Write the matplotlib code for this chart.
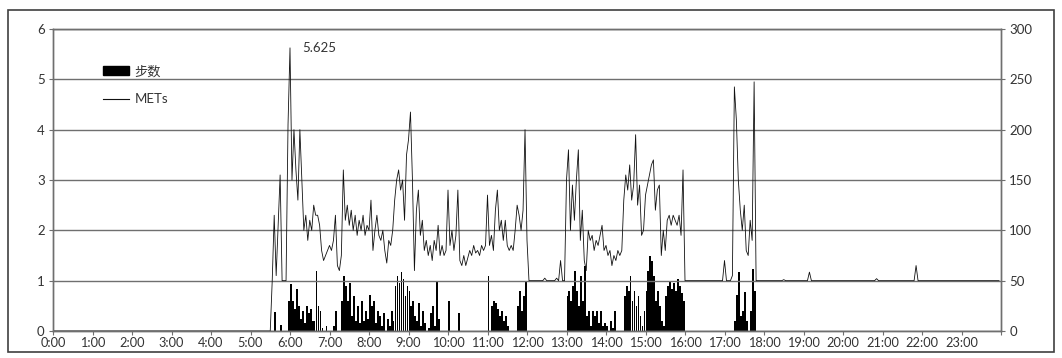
# -*- coding: utf-8 -*-
import numpy as np
import matplotlib
matplotlib.use('Agg')
import matplotlib.pyplot as plt
from matplotlib.patches import Patch, Rectangle
from matplotlib.lines import Line2D

plt.rcParams['font.family'] = ['Lato', 'Noto Sans CJK SC', 'DejaVu Sans']

# METs, 3-Minuten-Werte, je Stunde 20 Werte (hh:00, hh:03, ... hh:57)
mets_00_04 = [0.0] * 100
mets_05 = [0, 0, 0, 0, 0, 0, 0, 0, 0, 0, 0, 1.0, 2.3, 1.1, 2.1, 3.1, 1.0, 1.0, 1.0, 4.1]
mets_06 = [5.625, 3.0, 4.0, 3.2, 2.6, 4.0, 3.0, 2.0, 2.3, 1.8, 2.2, 2.0, 2.5, 2.3, 2.3, 2.1, 1.6, 1.4, 1.5, 1.6]
mets_07 = [1.7, 1.6, 1.8, 2.3, 1.3, 1.2, 1.5, 3.2, 2.2, 2.5, 2.1, 2.4, 2.0, 2.3, 1.9, 2.2, 2.0, 2.3, 1.9, 2.1]
mets_08 = [2.0, 2.6, 1.6, 2.0, 2.3, 1.9, 1.8, 2.0, 1.6, 1.35, 1.8, 1.7, 2.0, 2.6, 3.0, 3.2, 2.8, 3.0, 2.2, 3.5]
mets_09 = [3.8, 4.35, 3.0, 1.2, 2.4, 2.8, 1.9, 2.2, 1.6, 1.8, 1.5, 1.7, 1.4, 1.8, 1.6, 2.1, 1.5, 1.7, 1.5, 1.6]
mets_10 = [2.8, 1.7, 2.0, 1.6, 1.9, 2.8, 1.4, 1.3, 1.5, 1.3, 1.45, 1.6, 1.5, 1.7, 1.55, 1.6, 1.5, 1.7, 1.6, 1.7]
mets_11 = [2.7, 1.7, 1.9, 1.6, 2.4, 2.8, 2.0, 2.2, 1.8, 2.2, 1.7, 1.6, 1.7, 1.6, 2.0, 2.5, 2.3, 2.0, 2.4, 4.0]
mets_12 = [1.8, 1.0, 1.0, 1.0, 1.0, 1.0, 1.0, 1.0, 1.0, 1.05, 1.0, 1.0, 1.0, 1.0, 1.0, 1.05, 1.0, 1.4, 1.0, 1.0]
mets_13 = [3.0, 3.6, 2.0, 2.9, 2.2, 3.0, 3.6, 1.8, 2.4, 1.4, 1.2, 2.0, 1.8, 1.9, 1.6, 1.8, 1.7, 1.9, 2.1, 1.6]
mets_14 = [1.7, 1.5, 1.6, 1.3, 1.5, 1.4, 1.6, 1.5, 1.6, 2.6, 3.1, 2.8, 3.3, 2.6, 2.9, 3.9, 2.5, 2.9, 1.9, 2.0]
mets_15 = [2.7, 2.9, 3.1, 3.3, 3.4, 2.4, 2.8, 2.9, 1.5, 2.0, 1.6, 2.2, 2.3, 2.1, 2.3, 2.2, 2.1, 2.3, 1.9, 3.2]
mets_16 = [1.0] * 20
mets_17 = [1.4, 1.0, 1.0, 1.0, 1.1, 4.85, 4.2, 3.0, 2.4, 2.0, 2.5, 1.6, 1.5, 2.2, 1.8, 4.95, 1.0, 1.0, 1.0, 1.0]
mets_18 = [1.0] * 10 + [1.02] + [1.0] * 9
mets_19 = [1.0] * 3 + [1.17] + [1.0] * 16
mets_20 = [1.0] * 17 + [1.04] + [1.0] * 2
mets_21 = [1.0] * 17 + [1.3] + [1.0] * 2
mets_22_23 = [1.0] * 40

# Schritte pro 3 Minuten (rechte Achse)
steps_00_04 = [0] * 100
steps_05 = [0] * 12 + [19, 0, 0, 6, 0, 0, 0, 30]
steps_06 = [47, 30, 22, 42, 25, 12, 20, 8, 25, 18, 22, 10, 10, 60, 25, 20, 3, 0, 5, 0]
steps_07 = [0, 0, 5, 20, 0, 0, 30, 55, 45, 30, 48, 15, 35, 10, 25, 8, 30, 10, 20, 12]
steps_08 = [36, 25, 30, 8, 20, 15, 5, 18, 0, 12, 5, 20, 10, 45, 55, 48, 59, 52, 35, 45]
steps_09 = [40, 25, 30, 15, 10, 28, 5, 20, 8, 0, 3, 18, 25, 5, 50, 12, 0, 0, 0, 0]
steps_10 = [30, 0, 0, 0, 0, 18] + [0] * 14
steps_11 = [55, 0, 25, 30, 28, 22, 15, 20, 10, 15, 5, 0, 0, 0, 0, 25, 40, 20, 35, 50]
steps_12 = [0] * 20
steps_13 = [35, 40, 30, 45, 60, 40, 25, 55, 30, 65, 15, 20, 5, 20, 15, 20, 8, 20, 5, 8]
steps_14 = [5, 0, 10, 3, 20, 0, 0, 0, 0, 35, 45, 40, 55, 30, 40, 25, 35, 15, 5, 20]
steps_15 = [40, 60, 75, 70, 55, 30, 40, 25, 10, 5, 35, 45, 50, 42, 48, 40, 52, 45, 38, 30]
steps_16 = [0] * 20
steps_17 = [0, 0, 0, 0, 0, 10, 36, 59, 15, 20, 39, 10, 0, 20, 62, 40, 0, 0, 0, 0]
steps_18_23 = [0] * 120

hour_labels = ['%d:00' % h for h in range(24)]

mets = np.array(mets_00_04 + mets_05 + mets_06 + mets_07 + mets_08 + mets_09 + mets_10
                + mets_11 + mets_12 + mets_13 + mets_14 + mets_15 + mets_16 + mets_17
                + mets_18 + mets_19 + mets_20 + mets_21 + mets_22_23)
steps = np.array(steps_00_04 + steps_05 + steps_06 + steps_07 + steps_08 + steps_09
                 + steps_10 + steps_11 + steps_12 + steps_13 + steps_14 + steps_15
                 + steps_16 + steps_17 + steps_18_23)
t = np.arange(len(mets)) * 0.05   # Stunden

grid_c = '#6f6f6f'
text_c = '#333333'

fig = plt.figure(figsize=(10.62, 3.58), dpi=100)
ax = fig.add_axes([53 / 1062, 1 - 331 / 358, 948 / 1062, 302 / 358])
ax2 = ax.twinx()

# Saeulen (Schritte) auf der rechten Achse, Linie (METs) darueber
ax2.bar(t, steps, width=0.045, color='black', align='edge', linewidth=0)
ax.plot(t, mets, color='#111111', lw=0.6)
ax.set_zorder(ax2.get_zorder() + 1)
ax.patch.set_visible(False)

ax.set_xlim(0, 24)
ax.set_ylim(0, 6)
ax2.set_ylim(0, 300)
ax.set_xticks(range(25))
ax.set_xticklabels(hour_labels + [''])
ax.set_yticks(range(7))
ax2.set_yticks(range(0, 301, 50))

ax.yaxis.grid(True, color=grid_c, lw=1.0)
for a in (ax, ax2):
    for s in a.spines.values():
        s.set_color(grid_c)
        s.set_linewidth(1.0)
    a.tick_params(direction='out', length=3, color=grid_c, labelsize=9.5,
                  labelcolor=text_c, pad=3)
ax.tick_params(axis='x', pad=1.5, labelsize=9.2)

# hoechster Wert beschriften
i = int(np.argmax(mets))
ax.annotate('%.3f' % mets[i], (t[i], mets[i]), xytext=(12, 0),
            textcoords='offset pixels', va='center', ha='left',
            fontsize=9.5, color=text_c)

handles = [Patch(color='black'), Line2D([], [], color='#111111', lw=0.8)]
ax.legend(handles, ['步数', 'METs'], loc='upper left', bbox_to_anchor=(0.04, 0.92),
          frameon=False, fontsize=9.5, handlelength=2.0, handletextpad=0.4,
          labelspacing=1.2, labelcolor=text_c)

fig.add_artist(Rectangle((8 / 1062, 1 - 352 / 358), 1046 / 1062, 342 / 358,
                         transform=fig.transFigure, fill=False, ec='#404040', lw=1.2))

fig.savefig('out.png', dpi=100)
